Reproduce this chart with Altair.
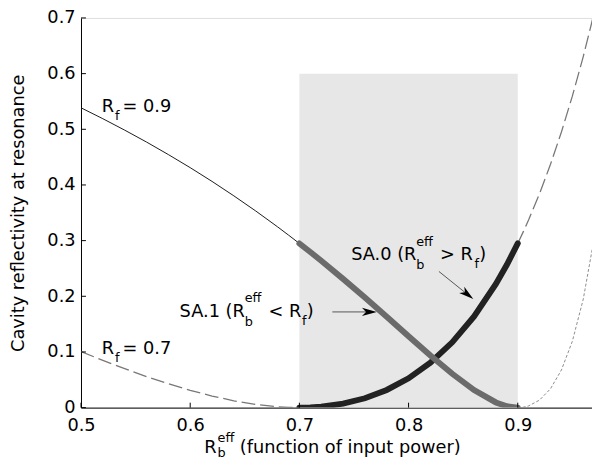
import altair as alt
import pandas as pd

# ---------------- data ----------------
rb = [0.50, 0.52, 0.54, 0.56, 0.58, 0.60, 0.62, 0.64, 0.66, 0.68, 0.69, 0.70,
      0.71, 0.72, 0.74, 0.76, 0.78, 0.80, 0.82, 0.84, 0.86, 0.88, 0.89, 0.90,
      0.905, 0.91, 0.92, 0.93, 0.94, 0.95, 0.96, 0.97, 0.975]
r_f09 = [0.5386, 0.5190, 0.4985, 0.4771, 0.4546, 0.4311, 0.4064, 0.3804, 0.3533, 0.3248, 0.3100, 0.2949,
         0.2795, 0.2638, 0.2313, 0.1977, 0.1632, 0.1283, 0.0937, 0.0608, 0.0315, 0.0093, 0.0025, 0.0,
         0.0007, 0.0031, 0.0136, 0.0339, 0.0676, 0.1191, 0.1949, 0.3041, 0.3751]
r_f07 = [0.1006, 0.0849, 0.0699, 0.0558, 0.0428, 0.0311, 0.0208, 0.0123, 0.0057, 0.0015, 0.0004, 0.0,
         0.0004, 0.0017, 0.0071, 0.0168, 0.0317, 0.0527, 0.0808, 0.1173, 0.1638, 0.2222, 0.2566, 0.2949,
         0.3157, 0.3375, 0.3847, 0.4371, 0.4952, 0.5595, 0.6306, 0.7094, 0.7519]

shade_x = [0.7, 0.9]
shade_y = [0.0, 0.6]

x_ticks = [0.5, 0.6, 0.7, 0.8, 0.9]
y_ticks = [0.0, 0.1, 0.2, 0.3, 0.4, 0.5, 0.6, 0.7]

x_domain = [0.5, 0.968]
y_domain = [0.0, 0.7]

FONT = "DejaVu Sans"
W, H = 518, 395

# segments: index of 0.70 and 0.90
i70 = rb.index(0.70)
i90 = rb.index(0.90)


def seg(vals, a, b):
    return pd.DataFrame({"x": rb[a:b], "y": vals[a:b]})


X_ENC = alt.X("x:Q", scale=alt.Scale(domain=x_domain, nice=False, zero=False),
              axis=alt.Axis(title="", values=x_ticks, format=".1f", ticks=False,
                            labelFont=FONT, labelFontSize=18, labelColor="black",
                            labelPadding=9, domainColor="black", domainWidth=1,
                            grid=False, labelFlush=False))
Y_ENC = alt.Y("y:Q", scale=alt.Scale(domain=y_domain, nice=False, zero=False),
              axis=alt.Axis(title="Cavity reflectivity at resonance", values=y_ticks,
                            labelExpr="datum.value == 0 ? '0' : format(datum.value, '.1f')",
                            ticks=False, labelFont=FONT, labelFontSize=18, labelColor="black",
                            labelPadding=6, domainColor="black", domainWidth=1, grid=False,
                            titleFont=FONT, titleFontSize=18, titleFontWeight="normal",
                            titleColor="black", titlePadding=20, labelFlush=False))

one = pd.DataFrame({"a": [0]})

shade = alt.Chart(pd.DataFrame({"x": [shade_x[0]], "x2": [shade_x[1]],
                                "y": [shade_y[0]], "y2": [shade_y[1]]})).mark_rect(
    color="#e7e7e7").encode(x=X_ENC, x2="x2:Q", y=Y_ENC, y2="y2:Q")


def line(df, color, width, dash=None, cap="butt"):
    kw = dict(color=color, strokeWidth=width, clip=True, strokeCap=cap)
    if dash:
        kw["strokeDash"] = dash
    return alt.Chart(df).mark_line(**kw).encode(x=X_ENC, y=Y_ENC, order="x:Q")


l09_left = line(seg(r_f09, 0, i70 + 1), "#1a1a1a", 1)
l09_right = line(seg(r_f09, i90, len(rb)), "#8c8c8c", 1, [3, 2])
l07_left = line(seg(r_f07, 0, i70 + 1), "#777777", 1.3, [14, 5])
l07_right = line(seg(r_f07, i90, len(rb)), "#777777", 1.3, [14, 5])
sa0 = line(seg(r_f07, i70, i90 + 1), "#222222", 6, cap="round")
sa1 = line(seg(r_f09, i70, i90 + 1), "#6b6b6b", 6, cap="round")

xt = alt.Chart(pd.DataFrame({"x": x_ticks})).mark_rule(color="black").encode(
    x=X_ENC, y=alt.value(H), y2=alt.value(H - 5))
yt = alt.Chart(pd.DataFrame({"y": y_ticks})).mark_rule(color="black").encode(
    y=Y_ENC, x=alt.value(0), x2=alt.value(5))


def txt(x, y, s, dx=0, dy=0, size=18):
    return alt.Chart(one).mark_text(align="left", baseline="alphabetic", dx=dx, dy=dy,
                                    fontSize=size, font=FONT, color="black").encode(
        x=alt.datum(x), y=alt.datum(y), text=alt.value(s))


texts = []
# R_f = 0.9
texts += [txt(0.519, 0.5316, "R"), txt(0.519, 0.5316, "f", 13.5, 8, 13),
          txt(0.519, 0.5316, "= 0.9", 21)]
# R_f = 0.7
texts += [txt(0.519, 0.0957, "R"), txt(0.519, 0.0957, "f", 13.5, 8, 13),
          txt(0.519, 0.0957, "= 0.7", 21)]
# SA.1 (R_b^eff < R_f)
ax, ay = 0.5903, 0.1630
texts += [txt(ax, ay, "SA.1 (R"), txt(ax, ay, "eff", 66, -15, 13), txt(ax, ay, "b", 66, 9, 13),
          txt(ax, ay, "< R", 90), txt(ax, ay, "f", 124, 8, 13), txt(ax, ay, ")", 129)]
# SA.0 (R_b^eff > R_f)
bx, by = 0.7474, 0.2658
texts += [txt(bx, by, "SA.0 (R"), txt(bx, by, "eff", 66, -14, 13), txt(bx, by, "b", 66, 9, 13),
          txt(bx, by, "> R", 90), txt(bx, by, "f", 125, 8, 13), txt(bx, by, ")", 130)]
# x-axis title  R_b^eff (function of input power)
tx, ty = 0.6129, -0.0815
texts += [txt(tx, ty, "R"), txt(tx, ty, "eff", 13.5, -11, 13), txt(tx, ty, "b", 13.5, 4, 13),
          txt(tx, ty, "(function of input power)", 36)]


def arrow_line(x1, y1, x2, y2):
    return alt.Chart(one).mark_rule(color="#555555", strokeWidth=1).encode(
        x=alt.datum(x1), y=alt.datum(y1), x2=alt.datum(x2), y2=alt.datum(y2))


def arrow_head(x, y, ang):
    return alt.Chart(one).mark_point(shape="M1,0L-1,-0.55L-0.45,0L-1,0.55Z", filled=True,
                                     size=225, angle=ang, color="black", opacity=1).encode(
        x=alt.datum(x), y=alt.datum(y))


arrows = [arrow_line(0.7302, 0.1719, 0.7641, 0.1719), arrow_head(0.7641, 0.1719, 0),
          arrow_line(0.8278, 0.2446, 0.8540, 0.2033), arrow_head(0.8540, 0.2033, 38.7)]

chart = alt.layer(shade, l09_left, l09_right, l07_left, l07_right, sa0, sa1, xt, yt,
                  *texts, *arrows).properties(
    width=W, height=H,
    padding={"left": 74, "top": 7, "right": 0, "bottom": 50},
    autosize=alt.AutoSizeParams(type="none"),
).configure_view(stroke=None).configure(background="white")

chart.save("out.html", embed_options={"renderer": "svg", "actions": False})
